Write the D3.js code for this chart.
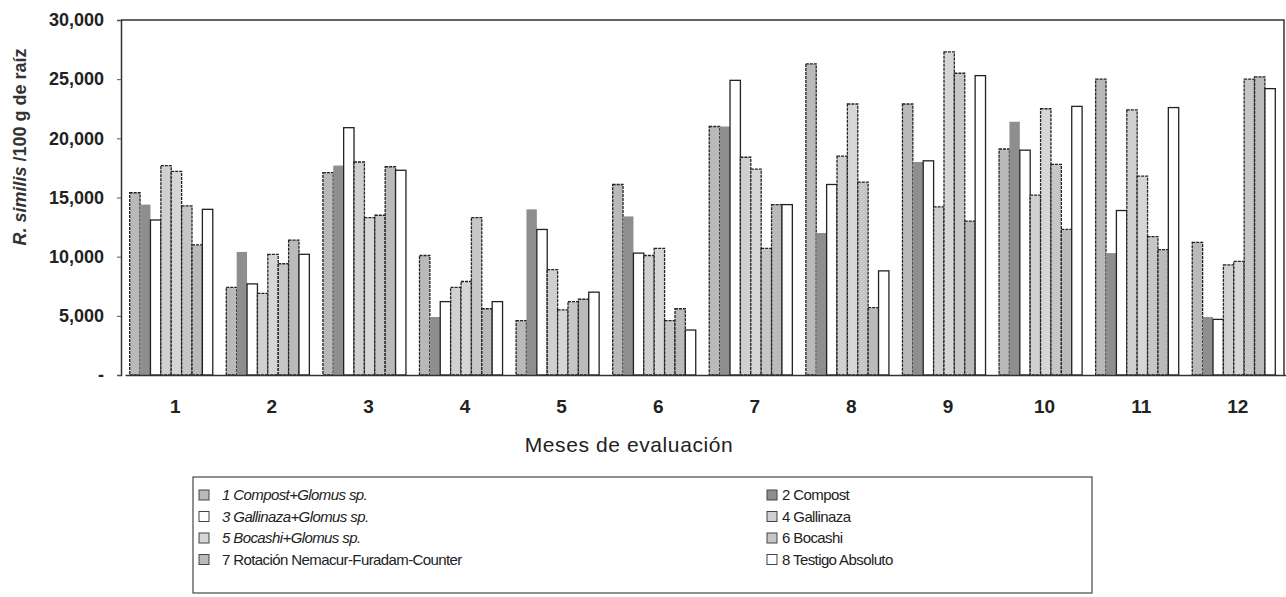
<!DOCTYPE html>
<html>
<head>
<meta charset="utf-8">
<script src="https://cdn.jsdelivr.net/npm/d3@7"></script>
<style>
	body { margin: 0; background: #fff; }
	svg { display: block; font-family: Arial, "Liberation Sans", sans-serif; }
</style>
</head>
<body>
<div id="chart"></div>
<script>
// months and treatments
var months = ['1', '2', '3', '4', '5', '6', '7', '8', '9', '10', '11', '12'];
var seriesNames = [
	'1 Compost+Glomus sp.', '2 Compost', '3 Gallinaza+Glomus sp.', '4 Gallinaza',
	'5 Bocashi+Glomus sp.', '6 Bocashi', '7 Rotación Nemacur-Furadam-Counter', '8 Testigo Absoluto'
];
var compostGlomus = [15400, 7400, 17100, 10100, 4600, 16100, 21000, 26300, 22900, 19100, 25000, 11200];
var compost = [14400, 10400, 17700, 4900, 14000, 13400, 21000, 12000, 18000, 21400, 10300, 4900];
var gallinazaGlomus = [13100, 7700, 20900, 6200, 12300, 10300, 24900, 16100, 18100, 19000, 13900, 4700];
var gallinaza = [17700, 6900, 18000, 7400, 8900, 10100, 18400, 18500, 14200, 15200, 22400, 9300];
var bocashiGlomus = [17200, 10200, 13300, 7900, 5500, 10700, 17400, 22900, 27300, 22500, 16800, 9600];
var bocashi = [14300, 9400, 13500, 13300, 6200, 4600, 10700, 16300, 25500, 17800, 11700, 25000];
var rotacion = [11000, 11400, 17600, 5600, 6400, 5600, 14400, 5700, 13000, 12300, 10600, 25200];
var testigo = [14000, 10200, 17300, 6200, 7000, 3800, 14400, 8800, 25300, 22700, 22600, 24200];
var yTicks = [0, 5000, 10000, 15000, 20000, 25000, 30000];

(function() {
	var allSeries = [compostGlomus, compost, gallinazaGlomus, gallinaza, bocashiGlomus, bocashi, rotacion, testigo];
	var fills = ['#b9b9b9', '#8e8e8e', '#ffffff', '#d0d0d0', '#d6d6d6', '#c6c6c6', '#bababa', '#ffffff'];

	var width = 1286, height = 597;
	var plotLeft = 121, plotRight = 1284, plotTop = 20, plotBottom = 375;

	var svg = d3.select('#chart').append('svg')
		.attr('width', width)
		.attr('height', height);

	var x0 = d3.scaleBand().domain(months).range([plotLeft, plotRight]).paddingInner(0.14).paddingOuter(0.09);
	var x1 = d3.scaleBand().domain(d3.range(8)).range([0, x0.bandwidth()]);
	var y = d3.scaleLinear().domain([0, 30000]).range([plotBottom, plotTop]);

	// frame (top + right)
	svg.append('path')
		.attr('d', 'M' + plotLeft + ',' + plotTop + 'H' + plotRight + 'V' + plotBottom)
		.attr('fill', 'none').attr('stroke', '#333').attr('stroke-width', 1.5);

	// bars
	var groups = svg.selectAll('.month')
		.data(months)
		.enter().append('g')
		.attr('class', 'month')
		.attr('transform', function(d) { return 'translate(' + x0(d) + ',0)'; });

	groups.selectAll('rect')
		.data(function(d, i) { return allSeries.map(function(s, k) { return { k: k, v: s[i] }; }); })
		.enter().append('rect')
		.attr('x', function(d) { return x1(d.k); })
		.attr('width', x1.bandwidth())
		.attr('y', function(d) { return y(d.v); })
		.attr('height', function(d) { return plotBottom - y(d.v); })
		.attr('fill', function(d) { return fills[d.k]; })
		.attr('stroke', function(d) { return d.k == 1 ? 'none' : '#222'; })
		.attr('stroke-width', 1.3)
		.attr('stroke-dasharray', function(d) { return (d.k == 2 || d.k == 7) ? null : '3,1'; });

	// y axis
	var yAxis = d3.axisLeft(y)
		.tickValues(yTicks)
		.tickSize(4)
		.tickFormat(function(d) { return d === 0 ? '-' : d3.format(',')(d); });
	var yg = svg.append('g')
		.attr('transform', 'translate(' + plotLeft + ',0)')
		.call(yAxis);
	yg.select('.domain').attr('stroke', '#333').attr('stroke-width', 1.5);
	yg.selectAll('.tick line').attr('stroke', '#555');
	yg.selectAll('.tick text')
		.attr('x', -17)
		.style('font-size', '18px')
		.style('font-weight', 'bold')
		.attr('fill', '#222');

	// x axis
	var xAxis = d3.axisBottom(x0).tickSize(0);
	var xg = svg.append('g')
		.attr('transform', 'translate(4,' + plotBottom + ')')
		.call(xAxis);
	xg.select('.domain').attr('stroke', '#333').attr('stroke-width', 1.5);
	xg.selectAll('.tick text')
		.attr('y', 25)
		.style('font-size', '19px')
		.style('font-weight', 'bold')
		.attr('fill', '#222');

	// axis titles
	var yTitle = svg.append('text')
		.attr('transform', 'translate(26,147) rotate(-90)')
		.attr('text-anchor', 'middle')
		.style('font-size', '18px')
		.style('font-weight', 'bold')
		.attr('fill', '#333');
	yTitle.append('tspan').style('font-style', 'italic').text('R. similis');
	yTitle.append('tspan').text(' /100 g de raíz');

	svg.append('text')
		.attr('x', 629)
		.attr('y', 452)
		.attr('text-anchor', 'middle')
		.style('font-size', '21px')
		.style('letter-spacing', '0.6px')
		.attr('fill', '#222')
		.text('Meses de evaluación');

	// legend
	var legend = svg.append('g').attr('class', 'legend');
	legend.append('rect')
		.attr('x', 193).attr('y', 477)
		.attr('width', 899).attr('height', 116)
		.attr('fill', 'none').attr('stroke', '#555').attr('stroke-width', 1.3);

	var items = legend.selectAll('.item')
		.data(seriesNames)
		.enter().append('g')
		.attr('class', 'item')
		.attr('transform', function(d, i) {
			var col = i % 2, row = Math.floor(i / 2);
			return 'translate(' + (col ? 767 : 199) + ',' + (495 + row * 21.5) + ')';
		});
	items.append('rect')
		.attr('x', 0).attr('y', -5)
		.attr('width', 10).attr('height', 10)
		.attr('fill', function(d, i) { return fills[i]; })
		.attr('stroke', '#444').attr('stroke-width', 1);
	items.append('text')
		.attr('x', function(d, i) { return i % 2 ? 15 : 23; })
		.attr('dy', '0.35em')
		.style('font-family', '"Liberation Sans Narrow", "Arial Narrow", sans-serif')
		.style('font-size', '15px')
		.style('letter-spacing', '-0.6px')
		.style('font-style', function(d, i) { return (i % 2 == 0 && i < 6) ? 'italic' : 'normal'; })
		.attr('fill', '#222')
		.text(function(d) { return d; });
})();
</script>
</body>
</html>
